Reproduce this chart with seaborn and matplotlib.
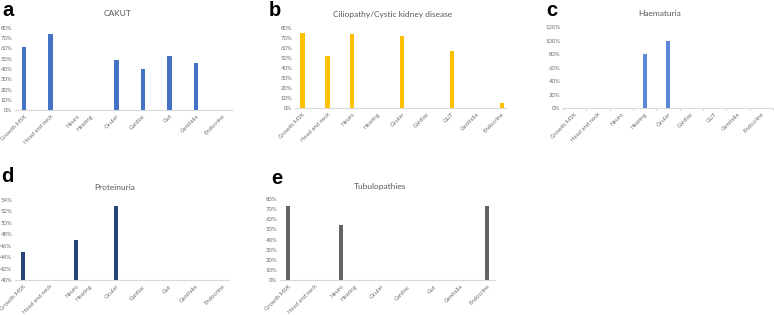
import matplotlib
matplotlib.use("Agg")
import matplotlib.pyplot as plt
import seaborn as sns
import numpy as np
import pandas as pd
from matplotlib.ticker import PercentFormatter, MultipleLocator

sns.set_theme(style="white")
plt.rcParams['font.family'] = ['Lato', 'DejaVu Sans']

# ---- data ----
cats_ade = ["Growth MSK", "Head and neck", "Neuro", "Hearing", "Ocular",
            "Cardiac", "Gut", "Genitalia", "Endocrine"]
cats_bc = ["Growth MSK", "Head and neck", "Neuro", "Hearing", "Ocular",
           "Cardiac", "GUT", "Genitalia", "Endocrine"]

cakut = [61, 74, 0, 0, 49, 40, 53, 46, 0]
cilio = [75, 52, 74, 0, 72, 0, 57, 0, 5]
haema = [0, 0, 0, 80, 100, 0, 0, 0, 0]
prot = [45, 0, 47, 0, 53, 0, 0, 0, 0]
tubulo = [73, 0, 54, 0, 0, 0, 0, 0, 73]

# ---- layout ----
pos_ade = [0, 1, 2, 2.5, 3.5, 4.5, 5.5, 6.5, 7.5]
pos_bc = [0, 1, 2, 3, 4, 5, 6, 7, 8]

W, H = 774, 315
fig = plt.figure(figsize=(W / 100, H / 100), dpi=100)

def axrect(x0, x1, ytop, ybot):
    return [x0 / W, 1 - ybot / H, (x1 - x0) / W, (ybot - ytop) / H]

panels = [
    dict(letter="a", title="CAKUT", cats=cats_ade, vals=cakut, pos=pos_ade,
         color="#4472C4", rect=axrect(15, 232, 28, 110), xlim=(-0.34, 7.85),
         ylim=(0, 80), step=10, title_xy=(118, 14), letter_xy=(2, 10), ticks=False),
    dict(letter="b", title="Ciliopathy/Cystic kidney disease", cats=cats_bc, vals=cilio,
         pos=pos_bc, color="#FFC000", rect=axrect(295, 506, 27.7, 108),
         xlim=(-0.3, 8.17), ylim=(0, 80), step=10, title_xy=(393, 14),
         letter_xy=(269, 10), ticks=False),
    dict(letter="c", title="Haematuria", cats=cats_bc, vals=haema, pos=pos_bc,
         color="#5B87D6", rect=axrect(563, 773, 27.3, 108), xlim=(-0.5, 8.5),
         ylim=(0, 120), step=20, title_xy=(660, 14), letter_xy=(546, 10), ticks=True),
    dict(letter="d", title="Proteinuria", cats=cats_ade, vals=prot, pos=pos_ade,
         color="#264478", rect=axrect(15, 229, 200, 280.3), xlim=(-0.3, 7.74),
         ylim=(40, 54), step=2, title_xy=(115, 187), letter_xy=(1, 177), ticks=False),
    dict(letter="e", title="Tubulopathies", cats=cats_ade, vals=tubulo, pos=pos_ade,
         color="#636363", rect=axrect(280, 495, 199, 280.3), xlim=(-0.31, 7.8),
         ylim=(0, 80), step=10, title_xy=(380, 187), letter_xy=(271, 179), ticks=False),
]

grey = "#6E6E6E"
for p in panels:
    ax = fig.add_axes(p["rect"])
    df = pd.DataFrame({"pos": p["pos"], "val": p["vals"]})
    spacing = min(np.diff(sorted(p["pos"])))
    sns.barplot(data=df, x="pos", y="val", native_scale=True, ax=ax,
                color=p["color"], saturation=1, width=0.17 / spacing,
                linewidth=0, errorbar=None)
    ax.set_xlim(*p["xlim"])
    ax.set_ylim(*p["ylim"])
    ax.yaxis.set_major_locator(MultipleLocator(p["step"]))
    ax.yaxis.set_major_formatter(PercentFormatter(decimals=0))
    ax.set_xticks(p["pos"])
    ax.set_xticklabels(p["cats"], rotation=45, ha="right", rotation_mode="anchor",
                       fontsize=4.3, color=grey)
    ax.tick_params(axis="y", labelsize=4.3, labelcolor=grey, length=0, pad=2)
    ax.tick_params(axis="x", length=0, pad=2.5)
    if p["ticks"]:
        for b in np.arange(p["xlim"][0], p["xlim"][1] + 0.01, 1.0):
            ax.plot([b, b], [0, -0.03], transform=ax.get_xaxis_transform(),
                    color="#D9D9D9", lw=0.8, clip_on=False)
    ax.set_xlabel("")
    ax.set_ylabel("")
    for s in ["top", "right", "left"]:
        ax.spines[s].set_visible(False)
    ax.spines["bottom"].set_color("#D9D9D9")
    ax.spines["bottom"].set_linewidth(0.8)
    ax.patch.set_alpha(0)
    fig.text(p["title_xy"][0] / W, 1 - p["title_xy"][1] / H, p["title"],
             ha="center", va="center", fontsize=6, color="#595959")
    fig.text(p["letter_xy"][0] / W, 1 - p["letter_xy"][1] / H, p["letter"],
             ha="left", va="center", fontsize=14.5, fontweight="bold", color="black",
             family=["Liberation Sans", "DejaVu Sans"])

fig.savefig("out.png", dpi=100)
